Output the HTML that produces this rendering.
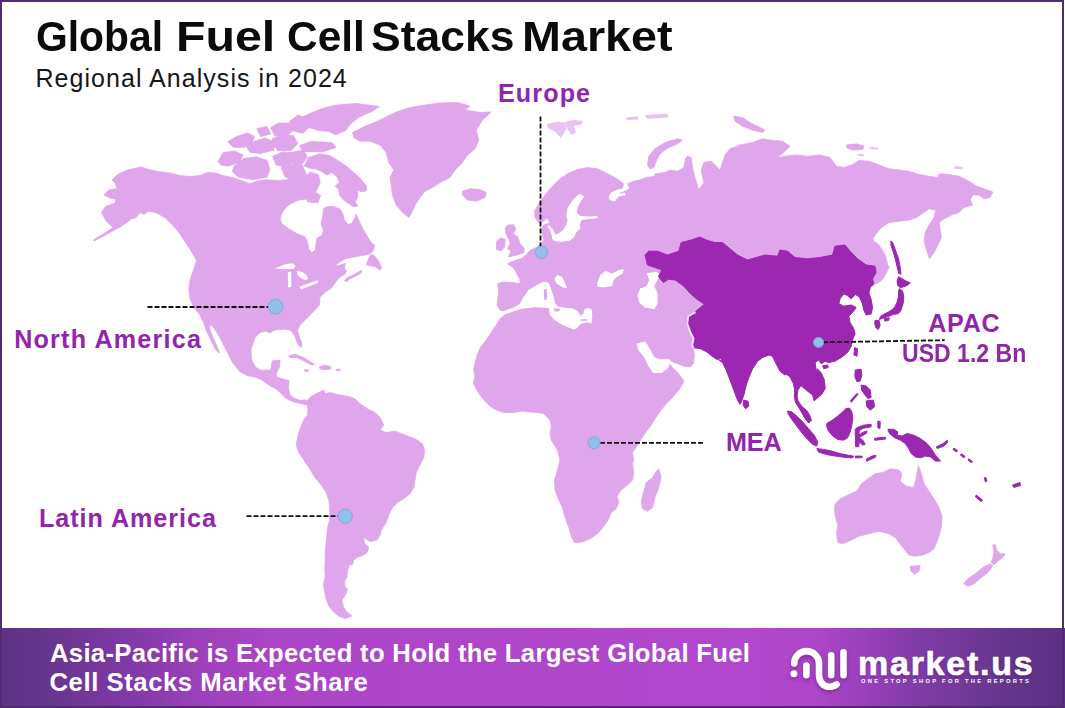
<!DOCTYPE html>
<html lang="en">
<head>
<meta charset="utf-8">
<title>Global Fuel Cell Stacks Market</title>
<style>
  html, body { margin: 0; padding: 0; }
  body {
    width: 1065px; height: 708px; overflow: hidden; position: relative;
    background: #ffffff;
    font-family: "Liberation Sans", sans-serif;
  }
  .frame {
    position: absolute; left: 0; top: 0; width: 1060px; height: 704px;
    border: 2px solid #512a72; z-index: 10; pointer-events: none;
  }
  .t { position: absolute; white-space: nowrap; line-height: 1; margin: 0; }
  h1.t { font-weight: 700; font-size: 42.6px; color: #0b0b0b; left: 35.5px; top: 15.2px; width: 660px; height: 43px; }
  h1.t span { position: absolute; top: 0; display: inline-block; transform-origin: 0 50%; }
  h2.t { font-weight: 400; font-size: 25px; letter-spacing: 1.04px; color: #161616; left: 35.5px; top: 65.5px; }
  .lbl { font-weight: 700; font-size: 25.15px; color: #9225ab; }
  #map { position: absolute; left: 0; top: 0; width: 1065px; height: 708px; }
  .banner {
    position: absolute; left: 0; top: 628px; width: 1065px; height: 80px;
    background: linear-gradient(90deg, #5c3286 0%, #66358d 4.3%, #8039a6 12%, #9b40ba 18.5%, #ab45c6 25%, #ae46c9 40%, #b147cd 70%, #ad46c8 77%, #963fb8 82%, #7f3ba6 86.5%, #66368f 94%, #5a3084 100%);
  }
  .banner p { color: #ffffff; font-weight: 700; font-size: 25.73px; }
</style>
</head>
<body>
  <svg id="map" viewBox="0 0 1065 708">
    <g id="land" fill="#dfa6ec" stroke="#dfa6ec" stroke-width="0.8" stroke-linejoin="round">
      <path d="M352.5 132.5 L362.5 127.5 L380 120 L395 112.5 L410 107.5 L425 105 L440 103 L457.5 102.5 L470 106.2 L465 110 L480 112.5 L491.2 112 L482.5 120 L476.2 130 L478.8 140 L475 148.8 L467.5 155 L462.5 162.5 L455 170 L450 177.5 L440 182.5 L432.5 187.5 L425 191.2 L420 197.5 L415 205 L411.2 213.8 L408.8 217.5 L402.5 212.5 L396.2 205 L392.5 195 L391.2 185 L390 177.5 L393.8 170 L388.8 162.5 L386.2 152.5 L380 145 L370 141.2 L360 141.2 L353.8 137.5Z
        M462.5 191.2 L470 188.8 L480 189.5 L486.2 192.5 L485 197.5 L476.2 201.2 L467.5 200 L462.5 195Z
        M93.8 239.5 L105 233 L113 227.5 L106.5 221.5 L101.5 212.5 L105.5 206.5 L115 203 L116 199.2 L110 198 L103.8 195 L108.8 190 L117 188.5 L115 183 L112 180 L117.5 174.5 L127.5 170 L141 167 L148.8 169.5 L157.5 171.5 L170 173 L180 175.5 L190 176.5 L200 175.5 L207.5 172.5 L215 173 L222.5 175.5 L232.5 177.5 L240 180 L250 183.8 L256.2 181.2 L265 179.8 L278.4 180.4 L286.8 179.8 L295.1 176.7 L300.1 179.2 L303.5 184.3 L308.5 185.9 L312.7 190.9 L311 197.6 L305.1 199.3 L298.5 200.1 L290.9 203.5 L286.8 206.8 L282.6 211.8 L280.1 218.5 L281.7 223.5 L288.4 228.6 L296.8 233.6 L305.1 236.9 L307.6 241.9 L308.5 248.6 L311.8 252.8 L315.2 250.3 L316 243.6 L316.8 238.6 L321.9 235.2 L323.5 230.2 L321 223.5 L322.7 216.9 L323.5 208.5 L326.9 206.8 L333.6 206.5 L340.2 209.3 L342.7 213.5 L344.4 220.2 L347.8 224.4 L351.9 223.5 L355.3 216.9 L356.1 214.3 L359.5 221.9 L363.6 230.2 L368.7 238.6 L372 243.6 L374.8 245.3 L373.1 251 L369.7 253.8 L362.9 255.5 L353.9 256.9 L344.9 258.9 L339.2 262.3 L334.7 266.2 L340.3 265.1 L345.4 263.4 L344.3 267.9 L346.6 271.3 L344.3 274.7 L341.5 275.8 L336.9 280.4 L331.3 288.3 L325.6 291.7 L320 297.3 L319.5 305 L313.8 311.2 L306.2 318.8 L300 325 L297.5 330 L299.5 337.5 L302 343.8 L300.8 347.5 L297.5 343.8 L295 336.2 L291.2 330.5 L285 329 L275 330 L269.5 333 L266.2 331 L260 332.5 L255 337.5 L252.5 345 L250.9 350 L251.7 360.1 L255.9 367.6 L261.7 370.4 L270.9 369.8 L272.1 360.9 L280.1 360.1 L279.6 366.7 L275.9 374.3 L277.6 377.6 L283.5 379.3 L288.8 380.4 L288.5 388.5 L290.1 395.2 L295.2 398.8 L300.2 400.5 L305.2 399.8 L307.2 402.2 L306 404.9 L300.2 403.5 L295.2 402.3 L290.1 400.5 L285.1 397.7 L280.9 393.2 L275.9 388.8 L268.4 384.8 L261.7 379.8 L255 377.1 L248.4 375.9 L240 371.8 L232.5 362.5 L227.5 352.5 L221.2 340 L215.5 330 L210.5 324 L209.5 328.8 L213 337.5 L217 346.2 L219.5 353 L215.5 349.5 L210.8 340 L206.2 330 L203.2 322 L200 315 L194 307.5 L190 298.8 L188.8 290 L190 280 L193.5 270 L196.5 260.5 L190.5 250 L184 240 L177 230 L172.5 225 L165 217.5 L155.5 212.5 L148.8 211.2 L143.8 214.5 L140 212.5 L136.2 217.5 L131.2 218.8 L127.5 222 L120 227 L110 232.5 L100 238 L93.8 241Z
        M344.3 280.4 L348.2 277 L353.9 274.7 L359.5 271.3 L362 270.5 L360.9 273 L355 276.4 L349.4 279.2 L346.6 281.7Z
        M370.8 254.4 L374.2 255.5 L378.8 261.2 L381.6 267.9 L379.9 270.2 L375.4 266.8 L369.7 265.7 L366.3 264.5 L368.6 258.9Z
        M302.4 117 L311.7 112.8 L321.9 108.6 L335.4 105.2 L355.8 103.5 L379.5 106.5 L372.7 111.1 L359.2 117 L350.7 123.8 L345.6 130.6 L335.4 134.8 L328.6 131.4 L318.5 130.6 L308.3 127.2 L303.2 122.1Z
        M299.4 145.6 L310.6 141.6 L332 142.6 L336 147.6 L322.8 151.7 L302.4 151.4Z
        M234.1 166 L243.3 158.7 L256.2 156.8 L267.1 160.5 L269.9 169.7 L267.1 177 L252.5 179.7 L237.8 177 L232.3 171.5Z
        M218.1 161.3 L222.9 152.8 L234.2 150.9 L242.8 154.7 L239.9 162.2 L228.5 166.1 L221 165.2Z
        M227.9 141.8 L236.7 136.4 L247.6 133 L254.3 136.4 L252 144 L244.4 147.3 L233.3 147.3Z
        M246.5 146.8 L254.3 141.4 L265.2 138 L275.2 142.4 L274 150.1 L260.8 153.4 L249.9 152.3Z
        M270.5 127.7 L278.5 123.1 L288.8 123.1 L293.4 129.9 L287.7 135.7 L275 136.1Z
        M271.7 139.1 L282 134.5 L293.4 135.7 L297.9 143.6 L291.1 150.5 L277.4 150.5Z
        M272.7 156.3 L282.6 151.9 L291.4 152.9 L293.6 160.7 L287 167.2 L276 165Z
        M289.5 152.4 L303.2 150.3 L307.5 156.7 L302.1 164.1 L292.6 165.1Z
        M304.3 165.9 L308.5 157.5 L320.2 153.7 L330.2 155.8 L338.6 160.9 L346.1 165.9 L352.8 171.7 L359.5 177.6 L366.6 185.9 L366.1 190.9 L361.1 191.8 L357.3 190.1 L357.8 196.8 L355.3 201.8 L357.8 206 L353.6 206.8 L348.6 203.5 L343.6 200.1 L339.4 195.1 L338.6 189.3 L335.2 185.9 L339.4 182.6 L336.9 176.7 L331.9 172.6 L326.9 175.1 L321.9 171.7 L316.8 169.2 L310.2 168.4Z
        M303.6 192.8 L313.7 190.8 L320.6 195.8 L317.6 202.8 L307.7 201.8Z
        M288.5 355.9 L295.2 354.2 L303.5 357.5 L310.2 361.7 L314.4 364.2 L311.9 365.1 L305.2 361.7 L296.8 357.5 L290.1 357.5Z
        M319.4 366.7 L325.2 365.1 L331.1 366.7 L330.3 369.2 L323.6 369.8 L319.9 368.7Z
        M304.3 369.8 L308.5 369.8 L308.2 371.4 L304.9 371.1Z
        M336.1 369.2 L340.3 369.2 L340.3 370.6 L336.4 370.6Z
        M289.3 121.6 L297.7 115.2 L306.2 117.3 L309.4 126.9 L303 133.2 L293.4 131.1Z
        M256.9 128.8 L266.9 126.4 L270.8 133.9 L260.6 136.5Z
        M281.1 167.1 L290.9 164.1 L302.5 165.1 L306.4 174.9 L302.5 184.6 L294.7 180.7 L285 176.9Z
        M306.2 401.2 L311.2 396.2 L318.8 392.5 L323.8 390 L325 393.8 L330 392.5 L337.5 394.5 L347.5 396.2 L355 398.8 L360 403.8 L367.5 408.8 L375 412.5 L380 417.5 L383.8 425 L380 430 L386.2 432.5 L395 431.2 L405 435 L415 438.8 L422.5 443.8 L424.5 450 L423.8 457.5 L420 465 L416.2 472.5 L415 480 L413.8 487.5 L410 493.8 L403.8 498.8 L397.5 502.5 L392.5 507.5 L388.8 515 L386.2 522.5 L381.2 530 L380.3 535 L377 540.1 L370.3 541.7 L363.6 537.5 L364.4 543.4 L368.6 546.7 L367.8 551.8 L363.6 555.1 L356.9 557.6 L353.6 560.1 L352.7 564.3 L349.4 565.1 L347.7 570.1 L346.9 576.8 L344.4 581.8 L345.2 586.9 L347.7 589.4 L345.2 595.2 L341.9 600.2 L343.5 606.9 L346 611.1 L351.9 616.1 L345.2 618.6 L338.5 616.1 L332.7 611.1 L328.5 605.2 L326 598.6 L324.3 590.2 L323.5 583.5 L325.2 576.8 L324.8 568.5 L325.2 560.1 L325.2 551.8 L326 543.4 L326.8 535 L327.7 526.7 L329.5 520 L330 510 L328.8 500 L326.2 492.5 L321.2 485 L315 477.5 L308.8 467.5 L303.8 460 L298.8 452.5 L296.2 445 L297.5 437.5 L298.8 432.5 L301.2 426.2 L303.8 420 L307.5 415 L308 408.8 L306.5 403.8Z
        M505 312 L500 310 L497 305 L498 297.5 L498.8 290 L497.5 283.8 L502.5 282 L512.5 282.5 L520 283.8 L520 279.5 L517.5 275 L513.8 268 L507.5 263.8 L515 260.5 L521.2 258.8 L526.2 255 L530 250.5 L536.2 247.5 L541.2 243.8 L543.8 240 L542.5 235 L541.2 228.8 L543.8 225 L550 223 L547 218 L543 221.5 L538.8 222.5 L535 217.5 L534.5 211.2 L538.8 203.8 L545 195 L552.5 186.2 L560 178.8 L567.5 173.8 L577.5 169.5 L587.5 167.5 L597.5 168.8 L605 172.5 L612.5 176.2 L618.8 180 L623.8 183.8 L622 188.8 L616.2 190 L622.5 192.5 L630 188.8 L627.5 183.8 L633.8 181.2 L640 180 L646.2 177.5 L655 176.2 L655 173.8 L665 172.5 L670 170 L677.5 171.2 L683.8 167.5 L685.5 158.8 L687.5 156.2 L691.2 157.5 L692.5 167.5 L695 177.5 L698.8 190 L703.8 182.5 L701.2 170 L703.8 162.5 L711.2 161.2 L715 165 L720 170 L722.5 162.5 L725 155 L730 148.8 L740 145 L752.5 142.5 L762.5 138.8 L770 140 L782.5 141.2 L790 146.2 L785 151.2 L777.5 157.5 L785 156.2 L795 155 L807.5 156.2 L820 155 L830 157.5 L836.5 166.2 L844 167.5 L851.5 165 L859 160.5 L869 161.2 L879 165 L889 168.8 L899 170 L909 171.2 L919 174.5 L929 176.2 L937.8 177.5 L939 173.8 L949 174.5 L959 176.2 L969 181.2 L976.5 186.2 L984 188.8 L992.8 192 L990.2 197.5 L984 198.8 L979 195 L972.8 195 L970.2 200 L972.8 205 L964 207.5 L959 212.5 L951.5 215 L944 218.8 L939 222.5 L940.2 230 L941.5 237.5 L937.8 245 L934 252.5 L929.5 258.8 L926.5 250 L924 241.2 L925.2 232.5 L929 225 L934 217.5 L936 210 L929 208.8 L924 212.5 L916.5 217.5 L909 220 L899 221.2 L889 222.5 L881.5 227.5 L875.2 235 L872.8 238.8 L874 241.2 L879 245 L885.2 255 L887.8 265 L889.3 266.8 L885.9 273.5 L881.8 280.2 L877.6 283 L870.5 287 L868.8 292.5 L871.2 300 L872.5 307.5 L871.2 313.8 L866.2 315 L863.8 310 L862.5 303.8 L859.5 297 L855.5 294.5 L851.2 298.8 L847.5 295.5 L843.8 293.8 L840 298.8 L838.8 303.8 L843.8 306.2 L851.2 305 L856.2 307.5 L852.5 312.5 L848.8 316.2 L850 322.5 L853.8 328.8 L855 333.8 L852.5 340 L851.2 346.2 L847.5 352.5 L841.2 357.5 L835 361.2 L828.8 362.5 L825 361.2 L821.2 363.8 L818.8 360 L815 362.5 L816.2 370 L817.6 369.2 L821 372.5 L824.3 380 L825.2 388.4 L821.8 394.2 L816.8 398.4 L814.3 400.9 L812.6 395.1 L808.4 391.7 L804.3 388.4 L800.9 385.6 L797.9 390.1 L797.1 395.9 L797.9 400.9 L802.1 406.8 L806.3 410.1 L809.6 415.1 L811.3 420.2 L808.8 423 L805.1 418.5 L802.3 413.5 L798.9 407.6 L795.6 402.6 L794.4 396.8 L794.7 390.1 L793.4 383.7 L790.1 377 L786.4 374.2 L785 375 L780 371.2 L776.2 363.8 L772.5 356.2 L768.8 355 L762.5 357.5 L757.5 361.2 L752.5 368.8 L748.8 377.5 L746.2 385 L743.8 395 L741.2 402.5 L740 404.2 L737.5 400 L733.8 390 L730 380 L726.2 370 L722.5 362.5 L718.8 360 L722.3 361.1 L721.1 358.6 L716.9 359.4 L711.9 356.1 L706.9 351.9 L700.2 348.6 L693.5 347.7 L694.4 355.2 L693.5 363.6 L690.2 366.9 L683.5 366.1 L675.2 362.8 L670.1 360.6 L668.5 361.6 L671.8 366.9 L678.5 373.6 L683.5 380.3 L683.8 382 L678.8 390 L672.5 397.5 L665 405 L657.5 415 L651.2 425 L643.8 435 L637.5 445 L632.5 452.5 L633.8 460 L632.5 463.8 L633.8 472.5 L632.5 480 L627.5 485 L621.2 490 L617 496.2 L618.8 502.5 L616.2 508.8 L611.2 512.5 L608.8 518.8 L603.8 526.2 L597.5 533.8 L590 538.8 L582.5 542 L574.5 542.5 L571.2 536.2 L568.8 527.5 L565 517.5 L562.5 507.5 L558.8 500 L555 490 L554.5 480 L557.5 470 L560 460 L557.5 450 L551.2 440 L550 433.8 L551.2 426.2 L550 420 L547.5 417.5 L543.8 413.8 L537.5 412.5 L530 412 L522.5 411.2 L512.5 412.5 L503.8 412.5 L496.2 410 L490 406.2 L485 401.2 L480 395 L476.2 388.8 L473.2 383 L475 377.5 L473.8 370 L475 362.5 L477.5 353.8 L481.2 346.2 L486.2 340 L491.2 332.5 L496.2 325 L500 318.8 L506.2 313.8Z
        M507.6 225.2 L513.4 224.4 L515.9 228.6 L513.4 233.6 L517.6 236.9 L520.1 243.6 L524.3 248.6 L523.5 252.8 L515.9 255.3 L508.4 257 L510.9 251.1 L507.6 248.6 L510.1 243.6 L508.4 238.6 L505.9 233.6 L505.1 228.6Z
        M496.7 241.1 L500.9 237.7 L505.1 239.4 L504.7 246.9 L500.9 251.1 L496.4 249.4Z
        M658.8 468.8 L661.2 477.5 L658.8 487.5 L655 497.5 L652.5 507.5 L647.5 511.2 L642.5 508.8 L641.2 501.2 L643.8 491.2 L646.2 482.5 L652.5 477.5 L656.2 471.2Z
        M647.5 165 L648.8 156.2 L655 148.8 L665 142.5 L677.5 138.8 L682.5 140 L677.5 143.8 L668.8 147.5 L660 153.8 L656.2 161.2 L653.8 167.5 L650 168.8Z
        M733.8 116.2 L742.5 117.5 L750 122.5 L760 127.5 L765 130 L762.5 132.5 L752.5 130 L742.5 126.2 L735 121.2Z
        M846.5 145 L856.5 143.8 L864 146.2 L862.8 149.5 L852.8 150 L847 148Z
        M835.2 503.8 L840.2 498.8 L847.8 495 L856.5 491.2 L861.5 483.8 L867.8 478.8 L875.2 473.8 L882.8 472.5 L890.2 468.8 L899 470 L902 473.8 L900.2 481.2 L906.5 486.2 L913.5 487.5 L916 478.8 L917.8 468.8 L918.2 465.5 L921.5 473.8 L924 483.8 L929 491.2 L934 498.8 L939 507.5 L942 516.2 L941.5 526.2 L939 536.2 L935.2 546.2 L934 548.8 L929 552.5 L922.8 555 L915.2 556.2 L909 555 L904 548.8 L899 542.5 L895.2 537.5 L889 533.8 L879 531.2 L869 533.8 L859 536.2 L851.5 540 L842.8 543.8 L837.8 542.5 L836.5 533.8 L837.8 525 L835.2 516.2 L834.5 508.8Z
        M910.2 566.2 L920.2 565.5 L919 571.2 L914.5 574.2 L911 571.2Z
        M992.8 545 L995.2 544.5 L996.5 550 L1000.2 553.8 L1005.2 553.8 L1002.8 557.5 L997.8 561.2 L994 565 L991 562.5 L992.8 557.5 L994 552.5Z
        M990.2 563.8 L992.8 566.2 L987.8 572.5 L981.5 577.5 L974 583.8 L967.8 586.2 L963.5 583.8 L967.8 578.8 L975.2 573.8 L982.8 567.5Z
        M302.4 179.7 L310 172.1 L318.5 174.7 L320.2 183.1 L315.9 191.6 L309.2 195 L304.1 189.9Z"/>
    </g>
    <g id="landf" fill="#dfa6ec" opacity="0.7">
      <path d="M546.7 124.2 L556.7 121.7 L565.1 122.6 L566.7 128.4 L560.9 138.1 L557.5 134.3 L554.2 130.9 L548.4 128.4Z
        M565.1 121.7 L573.4 120.1 L582.6 120.9 L581.8 124.2 L573.4 125.9 L575.9 132.6 L571.8 135.1 L567.6 129.3Z
        M626.2 117.5 L637.5 116.2 L638.8 119.5 L627.5 120Z
        M645 115 L667.5 113.8 L668.8 117.5 L647.5 118.8Z
        M869 147 L877.8 147.5 L878.5 149.5 L870.2 149.2Z
        M857.8 153.8 L864 154.5 L863.5 156.5 L858 155.8Z
        M954 166.2 L962.8 166.8 L962.8 169.2 L954.5 168.8Z"/>
    </g>
    <g id="water" fill="#ffffff">
      <path d="M275.3 268.2 L284.4 264.4 L292.3 263.3 L295.7 265.9 L293.4 269.1 L286.6 269.1 L281 269.3Z
        M287.8 272.1 L291.2 271.6 L291.4 286.8 L288 287.4Z
        M296.8 271 L302.5 272.1 L307 275.5 L308.1 278.9 L304.7 280 L300.2 277.8 L297.4 274.4Z
        M299.1 287 L305.8 284.5 L313.8 281.2 L318.3 280.6 L317.7 282.9 L309.2 286.2 L301.3 289.3Z
        M501.7 311.8 L505.1 310.5 L513.4 307.7 L520.1 303.5 L523.8 296.8 L528.5 290.1 L535.2 285.9 L543.5 281.8 L548.5 282.6 L551 288.4 L553.5 296.8 L555.2 303.5 L558.6 306.8 L565.2 307.7 L572.8 308.5 L577.8 311 L580.3 316 L583.3 313.5 L584.5 309.3 L587.8 307.7 L591.6 309.3 L592.3 316.9 L591.6 323.5 L587 322.2 L580.3 323.9 L576.9 328.2 L573.6 329.6 L563.6 325.5 L555.2 320.5 L550.2 315.5 L548.9 308 L535.2 307.2 L521.8 308.8 L506.7 313.8 L502.1 314.3Z
        M597 283.4 L600.3 275.1 L605.4 270.9 L612 273.4 L618.7 270.1 L623.7 269.2 L622.9 273.4 L617.1 276.7 L613.7 280.1 L612 285.9 L603.7 287.6 L597.8 286.8Z
        M580.3 193.8 L584 196.5 L581.1 201 L577.8 206.8 L576.9 212.7 L580.3 216 L588.6 216.4 L597.3 216 L597.8 218.2 L588.6 218.9 L581.6 219.9 L579.8 224.4 L580.6 228.6 L577.8 230.6 L575.6 233.6 L573.6 237.7 L569.4 240.8 L561.9 241.8 L555.2 241.3 L552.2 238.9 L551.5 234.4 L550.2 230.2 L547.2 226.6 L548.9 225.2 L552.7 228.9 L555.5 234.4 L558.9 233.2 L563.1 229.9 L566.1 225.2 L567.7 220.2 L566.1 216 L567.7 207.7 L572.8 200.1 L577.8 195.1Z
        M616.2 190 L622 188.8 L620 193.8 L625 192.5 L625.5 195.5 L618.8 196.2 L615 201.2 L609.5 200 L608.8 196.2 L611.2 192.5Z
        M646.7 273.3 L655.9 271.7 L660.9 275 L657.6 280 L654.3 285.9 L657.6 293.4 L657.6 303.4 L654.3 309.3 L645.1 307.6 L639.2 302.6 L637.5 295.1 L640.1 288.4 L646.7 285.9 L649.2 280Z
        M636.4 343.5 L645.4 341.5 L650.1 349.2 L654.4 357.2 L660.8 359.6 L668.8 358.9 L670.8 361.6 L668.1 367.9 L661.8 373 L653.1 373 L648.4 365.9 L644.2 357.6 L638.4 349.9Z
        M554.4 278.7 L557.2 275.1 L561.9 276.7 L565.2 283.4 L567.2 288.1 L563.6 287.8 L560.2 285.8 L556.4 283.4Z"/>
    </g>
    <g id="land2" fill="#dfa6ec">
      <path d="M544 289.3 L546.5 288.8 L547.2 295.1 L546.5 300.1 L544.3 299.8 L543.8 294.3Z
        M553.5 308.5 L560.2 308.8 L558.6 311.8 L554.4 311Z
        M580.3 319.4 L587 318.9 L587 320.4 L580.6 320.9Z"/>
    </g>
    <g id="apac" fill="#9c27b0" stroke="#9c27b0" stroke-width="1" stroke-linejoin="round">
      <path d="M645 255 L648.8 251.2 L657.5 251.2 L667.5 255 L678.8 251.2 L681.2 242.5 L691.2 240 L700 237 L706.2 240 L715 242.5 L722.5 242.5 L730 248.8 L737.5 255 L747.5 260 L756.2 257.5 L765 255 L777.5 256.2 L780 250 L787.5 251.2 L795 257.5 L807.5 258.8 L820 257.5 L832.5 255 L835 246.2 L845 245 L850 251.2 L857.5 258.8 L866.2 265 L875 266.2 L876.2 272.5 L872.5 278.8 L873.8 283.8 L870.5 287 L868.8 292.5 L871.2 300 L872.5 307.5 L871.2 313.8 L866.2 315 L863.8 310 L862.5 303.8 L859.5 297 L855.5 294.5 L851.2 298.8 L847.5 295.5 L843.8 293.8 L840 298.8 L838.8 303.8 L843.8 306.2 L851.2 305 L856.2 307.5 L852.5 312.5 L848.8 316.2 L850 322.5 L853.8 328.8 L855 333.8 L852.5 340 L851.2 346.2 L847.5 352.5 L841.2 357.5 L835 361.2 L828.8 362.5 L825 361.2 L821.2 363.8 L818.8 360 L815 362.5 L816.2 370 L817.6 369.2 L821 372.5 L824.3 380 L825.2 388.4 L821.8 394.2 L816.8 398.4 L814.3 400.9 L812.6 395.1 L808.4 391.7 L804.3 388.4 L800.9 385.6 L797.9 390.1 L797.1 395.9 L797.9 400.9 L802.1 406.8 L806.3 410.1 L809.6 415.1 L811.3 420.2 L808.8 423 L805.1 418.5 L802.3 413.5 L798.9 407.6 L795.6 402.6 L794.4 396.8 L794.7 390.1 L793.4 383.7 L790.1 377 L786.4 374.2 L785 375 L780 371.2 L776.2 363.8 L772.5 356.2 L768.8 355 L762.5 357.5 L757.5 361.2 L752.5 368.8 L748.8 377.5 L746.2 385 L743.8 395 L741.2 402.5 L740 404.2 L737.5 400 L733.8 390 L730 380 L726.2 370 L722.5 362.5 L718.8 360 L722.3 361.1 L721.1 358.6 L716.9 359.4 L711.9 356.1 L706.9 351.9 L700.2 348.6 L693.5 347.7 L691.9 345.2 L693.5 338.5 L690.2 331.8 L686.9 323.5 L687.7 316 L695.2 311.8 L704.4 304.3 L696.9 299.2 L690.2 293.4 L683.5 285.9 L675.2 280 L668.5 279.2 L663.5 282.5 L658.4 276.7 L661.8 270 L655 267.5 L647.5 265Z
        M743.8 400 L748 401.2 L748.8 406.2 L745.5 408.8 L743 405Z
        M822.6 365.8 L827.7 365 L828.2 367.5 L823.8 368.7Z
        M854.5 347.5 L857.5 348.8 L857 356.2 L854 355Z
        M890.9 240.9 L893.1 243.4 L896 251.7 L898.5 258.4 L900.1 266.8 L901 274.3 L898.8 273.5 L897.1 266.8 L895.1 258.4 L893.1 251.7 L890.9 245.1Z
        M898.5 276.8 L901.8 278.5 L906 281 L910.2 282.7 L907.7 285.2 L903.5 286.8 L900.1 287.7 L897.6 285.2 L897.1 281Z
        M899.3 288.5 L902.6 291 L903.8 296.9 L903.2 303.6 L901 310.2 L898.5 313.6 L893.5 314.4 L889.3 316.1 L884.3 317.8 L879.2 319.4 L880.9 316.1 L885.1 313.6 L890.1 311.1 L894.3 307.7 L896.8 302.7 L898.5 296.9 L898.5 291.9Z
        M875.1 320.3 L879.2 320.6 L880.1 325.3 L878.4 329.5 L875.9 327.8 L874.7 323.6Z
        M884.3 318.6 L889.3 317.8 L888.8 320.3 L884.8 321.1Z
        M787.5 411 L791.7 411.8 L796.7 416 L802.6 421.8 L808.4 428.5 L814.3 435.2 L817.6 441.9 L816.8 446.1 L812.6 444.4 L807.6 439.4 L801.8 432.7 L796.7 426 L791.7 419.3 L788.4 414.3Z
        M816.8 448.6 L823.5 449.4 L831.8 451.1 L840.2 453.6 L848.6 455.3 L853.6 456.1 L852.7 457.9 L845.2 457.4 L836.9 456.3 L826.8 454.6 L818.5 452.1Z
        M855.2 456.1 L861.9 456.1 L862.3 457.6 L855.6 457.9Z
        M866.1 459.4 L872 456.1 L876.1 455.3 L875.6 457.1 L870.3 459.6 L866.9 461.3Z
        M826.8 423.5 L831 421 L836.9 416.8 L841.9 412.6 L846 408.5 L849.4 408.1 L851.9 411.8 L852.7 418.5 L851.9 425.2 L850.2 431.9 L847.7 437.7 L843.5 440.2 L837.7 439.4 L832.7 436 L828.5 431 L826.8 426.8Z
        M855.2 429.3 L856.9 427.7 L863.6 425.2 L871.1 424.3 L871.1 426.8 L863.6 428.2 L859.4 430.2 L858.9 434.9 L863.6 431.9 L866.9 431 L866.6 433.2 L861.9 436 L859.1 437.2 L862.8 440.2 L865.3 444.4 L862.8 445.2 L859.4 441.9 L858.6 446.9 L855.6 446.6Z
        M855.2 370 L861.1 369.2 L861.9 375 L860.3 380.9 L856.9 381.7 L854.9 376.7Z
        M861.1 385.1 L866.1 385.9 L870.3 390.1 L871.1 397.6 L867.8 398.4 L864.4 394.2 L861.6 390.1Z
        M866.1 400.9 L873.6 400.1 L874.5 406.8 L870.3 410.1 L866.9 406.8Z
        M850.2 400.9 L856.9 393.4 L858.1 394.2 L851.6 402.1Z
        M877.8 421 L880.3 421.8 L880 428.5 L877.8 427.7Z
        M874.5 438.5 L878.6 437.7 L885.3 437.2 L885.7 438.9 L878.6 439.9 L874.8 440.2Z
        M887.8 429.3 L893.7 429.3 L897.9 431.9 L897 435.2 L902 436 L907.1 433.5 L913.7 435.2 L920.4 438.5 L927.1 443.6 L931.3 448.6 L935.5 455.3 L940.5 461.1 L935.5 461.1 L930.5 456.9 L925.4 456.1 L920.4 457.8 L915.4 456.9 L911.2 453.6 L908.7 448.6 L905.4 443.6 L900.4 440.2 L894.5 437.7 L889.5 433.5Z
        M936.3 446.9 L943 443.6 L947.2 440.2 L947.5 442.7 L943.8 446.1 L937.1 448.6Z
        M953.8 448 L957.5 450.5 L956.5 452 L953 449.5Z
        M961.2 453.8 L965 456.2 L964 457.8 L960.5 455.2Z
        M968.8 458.8 L972.5 461.5 L971.5 462.8 L968 460.2Z
        M984.5 477.5 L986.2 478 L986.8 481.5 L985 481.2Z
        M976.2 495 L982.5 500 L981.2 501.8 L975.5 497Z
        M1012.5 485 L1020 482.5 L1020.5 485.5 L1013.8 487.5Z"/>
    </g>
    <path id="gap" d="M695.5 312.1 L688.2 316.3 L687.2 323.5 L690.2 331.8 L693.5 338.5 L692.2 345.5 L693.5 348.2" fill="none" stroke="#ffffff" stroke-width="1.9" stroke-linejoin="round" opacity="0.9"/>
    <g id="leaders" stroke="#111111" stroke-width="1.8" stroke-dasharray="5 2" fill="none">
      <line x1="147.5" y1="307" x2="268" y2="307"/>
      <line x1="246.5" y1="516.2" x2="338" y2="516.2"/>
      <line x1="540.5" y1="116.5" x2="540.5" y2="247"/>
      <line x1="600" y1="442.8" x2="703" y2="442.8"/>
      <line x1="823" y1="342.3" x2="944.7" y2="340.2"/>
    </g>
    <g id="dots" fill="#93c0ea" stroke="#7fa9d8" stroke-width="1">
      <circle cx="275.7" cy="306.7" r="7.3"/>
      <circle cx="345.2" cy="516.2" r="7.2"/>
      <circle cx="541.6" cy="252.4" r="6.2"/>
      <circle cx="594.1" cy="442.8" r="6"/>
      <circle cx="818.5" cy="342.4" r="5"/>
    </g>
  </svg>

  <h1 class="t"><span style="left:0.2px; transform:scaleX(0.9586);">Global</span> <span style="left:140px; transform:scaleX(1.134);">Fuel</span> <span style="left:251.3px; transform:scaleX(0.996);">Cell</span> <span style="left:335.1px; transform:scaleX(1.0437);">Stacks</span> <span style="left:486.6px; transform:scaleX(1.097);">Market</span></h1>
  <h2 class="t">Regional Analysis in 2024</h2>

  <div class="t lbl" style="left:498px; top:80.5px; letter-spacing:1.1px;">Europe</div>
  <div class="t lbl" style="left:14.2px; top:326.6px; letter-spacing:1.2px;">North America</div>
  <div class="t lbl" style="left:39px; top:506px; letter-spacing:0.97px;">Latin America</div>
  <div class="t lbl" style="left:725.9px; top:429.6px;">MEA</div>
  <div class="t lbl" style="left:928.2px; top:311px; letter-spacing:0.7px;">APAC</div>
  <div class="t lbl" style="left:902.2px; top:341px; transform:scaleX(0.917); transform-origin:0 50%;">USD 1.2 Bn</div>

  <div class="banner">
    <p class="t" style="left:50px; top:12.8px; letter-spacing:0.28px;">Asia-Pacific is Expected to Hold the Largest Global Fuel</p>
    <p class="t" style="left:49.5px; top:42.3px; letter-spacing:0.54px;">Cell Stacks Market Share</p>
    <svg style="position:absolute; left:780px; top:7px; filter:drop-shadow(0 2px 2px rgba(70,10,110,.45));" width="260" height="65" viewBox="780 635 260 65">
      <g fill="none" stroke="#ffffff" stroke-width="6.6" stroke-linecap="round" stroke-linejoin="round">
        <path d="M794.2 663.5 A12.4 12.4 0 0 1 819 663.5 L819 674.5 C819 682 823.5 686.8 829.5 686.8 C832.3 686.8 834.8 685.9 836.6 684.4"/>
        <line x1="806.4" y1="665.5" x2="806.4" y2="675.3"/>
        <line x1="831.2" y1="655.2" x2="831.2" y2="675.3"/>
        <line x1="843.5" y1="652.2" x2="843.5" y2="675.3"/>
      </g>
      <circle cx="793.9" cy="673.7" r="3.5" fill="#ffffff"/>
    </svg>
    <div class="t" style="left:858px; top:17.5px; font-weight:700; font-size:34px; letter-spacing:1.75px; color:#fff; -webkit-text-stroke:0.7px #fff; text-shadow:0 2px 3px rgba(70,10,110,.45);">market.us</div>
    <div class="t" style="left:861px; top:50.5px; font-weight:700; font-size:5.8px; letter-spacing:2.27px; color:#fff;">ONE STOP SHOP FOR THE REPORTS</div>
  </div>

  <div class="frame"></div>
</body>
</html>
